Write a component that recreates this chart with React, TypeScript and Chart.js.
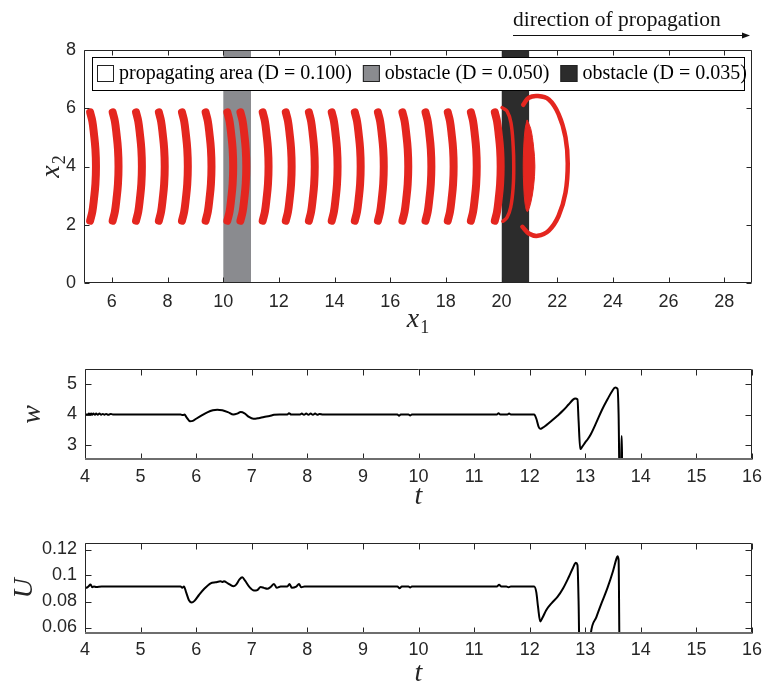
import React, { useEffect, useRef } from "react";
import { Chart, registerables } from "chart.js";

Chart.register(...registerables);

// ---------------- Data ----------------
const legendLabels = ["propagating area (D = 0.100)", "obstacle (D = 0.050)", "obstacle (D = 0.035)"];
const legendColors = ["#ffffff", "#8a8b8f", "#2c2c2c"];
const obstacleGrayX = [10, 11];
const obstacleDarkX = [20, 21];
const domainTop = 8;

// x position (x1) of the upper/lower tips of each wave-front arc
const arcStartX = [5.22, 6.03, 6.87, 7.69, 8.52, 9.37, 10.15, 10.62, 11.42, 12.25, 13.08, 13.9, 14.73, 15.56, 16.44, 17.27, 18.07, 18.9, 19.76];
// common arc profile (x2 value and bulge in x1)
const arcProfileY = [5.86, 5.55, 5.1, 4.6, 4.0, 3.4, 2.9, 2.45, 2.14];
const arcProfileDx = [0, 0.08, 0.14, 0.19, 0.21, 0.19, 0.14, 0.08, 0];

// thin arc inside the dark obstacle
const innerArcX = [20.02, 20.2, 20.34, 20.42, 20.44, 20.42, 20.33, 20.2, 20.05];
const innerArcY = [6.02, 5.9, 5.5, 4.7, 4.0, 3.3, 2.6, 2.25, 2.12];

// lens-shaped front just behind the dark obstacle
const lensX = [20.92, 21.05, 21.15, 21.2, 21.15, 21.05, 20.93, 20.85, 20.8, 20.78, 20.8, 20.85, 20.92];
const lensY = [5.6, 5.3, 4.7, 4.0, 3.3, 2.75, 2.45, 2.7, 3.3, 4.0, 4.7, 5.3, 5.6];

// outer C-shaped front
const frontX = [20.78, 20.98, 21.3, 21.7, 22.05, 22.3, 22.38, 22.3, 22.05, 21.7, 21.3, 20.98, 20.75];
const frontY = [6.12, 6.36, 6.42, 6.3, 5.8, 5.0, 4.1, 3.1, 2.3, 1.8, 1.62, 1.7, 1.93];

const topXTicks = [6, 8, 10, 12, 14, 16, 18, 20, 22, 24, 26, 28];
const topYTicks = [0, 2, 4, 6, 8];
const tTicks = [4, 5, 6, 7, 8, 9, 10, 11, 12, 13, 14, 15, 16];
const wTicks = [3, 4, 5];
const uTicks = [0.06, 0.08, 0.1, 0.12];

const wData: [number, number][] = [
  [4.0, 4.0], [4.05, 4.0], [4.07, 4.03], [4.09, 3.99], [4.11, 4.03], [4.13, 3.99], [4.15, 4.03], [4.18, 3.99],
  [4.2, 4.03], [4.23, 3.99], [4.26, 4.03], [4.29, 3.99], [4.32, 4.02], [4.35, 3.99], [4.38, 4.02], [4.42, 3.99],
  [4.46, 4.02], [4.5, 4.0], [5.72, 4.0], [5.76, 3.98], [5.79, 4.0], [5.83, 3.9], [5.89, 3.78], [5.94, 3.79],
  [6.0, 3.86], [6.1, 3.97], [6.2, 4.07], [6.3, 4.14], [6.38, 4.16], [6.47, 4.14], [6.57, 4.08], [6.67, 4.0],
  [6.74, 4.03], [6.8, 4.08], [6.87, 4.04], [6.95, 3.92], [7.03, 3.86], [7.12, 3.88], [7.22, 3.92], [7.32, 3.95],
  [7.4, 3.99], [7.5, 4.0], [7.64, 4.0], [7.67, 4.04], [7.71, 4.0], [7.87, 4.0], [7.9, 4.03], [7.94, 3.99],
  [7.98, 4.03], [8.02, 3.99], [8.06, 4.03], [8.1, 3.99], [8.14, 4.03], [8.18, 3.99], [8.22, 4.02], [8.28, 4.0],
  [9.62, 4.0], [9.65, 3.96], [9.68, 4.0], [9.82, 4.0], [9.85, 3.97], [9.88, 4.0], [11.41, 4.0], [11.44, 4.04],
  [11.47, 4.0], [11.6, 4.0], [11.63, 4.03], [11.66, 4.0], [12.08, 4.0], [12.12, 3.86], [12.16, 3.6], [12.19, 3.53],
  [12.23, 3.56], [12.3, 3.65], [12.4, 3.8], [12.5, 3.96], [12.6, 4.13], [12.7, 4.33], [12.78, 4.49], [12.82, 4.53],
  [12.86, 4.5], [12.88, 3.8], [12.91, 2.86], [12.95, 2.95], [13.0, 3.08], [13.05, 3.2], [13.1, 3.35], [13.2, 3.74],
  [13.3, 4.15], [13.4, 4.5], [13.48, 4.76], [13.54, 4.89], [13.58, 4.85], [13.6, 4.0], [13.62, 1.5], [13.645, 1.5],
  [13.65, 3.28], [13.66, 3.28], [13.665, 1.5], [13.7, 1.5],
];

const uData: [number, number][] = [
  [4.0, 0.0915], [4.03, 0.0905], [4.06, 0.0915], [4.1, 0.093], [4.13, 0.091], [4.16, 0.0915], [4.2, 0.0912],
  [4.3, 0.0915], [5.72, 0.0915], [5.75, 0.0905], [5.78, 0.0915], [5.82, 0.087], [5.87, 0.081], [5.92, 0.0792],
  [5.97, 0.0805], [6.05, 0.085], [6.15, 0.09], [6.26, 0.094], [6.35, 0.0948], [6.44, 0.0955], [6.47, 0.095],
  [6.5, 0.0956], [6.57, 0.094], [6.67, 0.0918], [6.72, 0.093], [6.78, 0.097], [6.83, 0.0986], [6.88, 0.096],
  [6.96, 0.091], [7.04, 0.0884], [7.1, 0.0888], [7.16, 0.0912], [7.22, 0.0905], [7.28, 0.0898], [7.34, 0.0912],
  [7.4, 0.0935], [7.45, 0.0905], [7.52, 0.0915], [7.64, 0.0915], [7.68, 0.0935], [7.72, 0.0905], [7.8, 0.0915],
  [7.85, 0.0935], [7.89, 0.091], [7.95, 0.0915], [9.62, 0.0915], [9.66, 0.0902], [9.7, 0.0915], [9.82, 0.0915],
  [9.85, 0.0908], [9.88, 0.0915], [11.41, 0.0915], [11.45, 0.0928], [11.49, 0.0915], [11.58, 0.0915],
  [11.62, 0.091], [11.66, 0.0915], [12.08, 0.0915], [12.12, 0.087], [12.15, 0.076], [12.19, 0.0647],
  [12.23, 0.0675], [12.3, 0.0735], [12.4, 0.079], [12.5, 0.0835], [12.6, 0.09], [12.7, 0.0985], [12.78, 0.106],
  [12.83, 0.1098], [12.86, 0.108], [12.88, 0.08], [12.9, 0.03], [13.05, 0.03], [13.1, 0.0555], [13.2, 0.068],
  [13.3, 0.0795], [13.4, 0.0905], [13.5, 0.1035], [13.56, 0.1128], [13.58, 0.1149], [13.6, 0.112], [13.62, 0.03],
  [13.7, 0.03],
];

// ---------------- Styling helpers ----------------
const RED = "#e4261f";
const AXIS = "#262626";
const TICK_FONT = { family: "Liberation Sans, Arial, sans-serif", size: 18 };
const SERIF = '"Liberation Serif", "Times New Roman", serif';

const matlabAxes = {
  id: "matlabAxes",
  afterDatasetsDraw(chart: any, _a: any, opts: any) {
    const { ctx, chartArea: a } = chart;
    const xs = chart.scales.x;
    const ys = chart.scales.y;
    const tl = opts.tickLen ?? 5;
    const L = Math.round(a.left) + 0.5;
    const R = Math.round(a.right) - 0.5;
    const T = Math.round(a.top) + 0.5;
    const B = Math.round(a.bottom) - 0.5;
    ctx.save();
    ctx.strokeStyle = opts.color ?? AXIS;
    ctx.lineWidth = 1;
    ctx.beginPath();
    ctx.rect(L, T, R - L, B - T);
    xs.ticks.forEach((t: any) => {
      const p = Math.round(xs.getPixelForValue(t.value)) + 0.5;
      ctx.moveTo(p, B); ctx.lineTo(p, B - tl);
      ctx.moveTo(p, T); ctx.lineTo(p, T + tl);
    });
    ys.ticks.forEach((t: any) => {
      const p = Math.round(ys.getPixelForValue(t.value)) + 0.5;
      ctx.moveTo(L, p); ctx.lineTo(L + tl, p);
      ctx.moveTo(R, p); ctx.lineTo(R - tl, p);
    });
    ctx.stroke();
    if (opts.bottomLine) {
      ctx.strokeStyle = opts.bottomLine;
      ctx.lineWidth = 2;
      ctx.beginPath();
      ctx.moveTo(a.left, Math.round(a.bottom) - 1);
      ctx.lineTo(a.right, Math.round(a.bottom) - 1);
      ctx.stroke();
    }
    ctx.restore();
  },
};

function drawMath(ctx: CanvasRenderingContext2D, base: string, sub: string | null, cx: number, baseY: number, size: number, rotate = false) {
  ctx.save();
  ctx.fillStyle = AXIS;
  const f1 = `italic ${size}px ${SERIF}`;
  const f2 = `${Math.round(size * 0.66)}px ${SERIF}`;
  ctx.font = f1;
  const w1 = ctx.measureText(base).width;
  ctx.font = f2;
  const w2 = sub ? ctx.measureText(sub).width + 1 : 0;
  const total = w1 + w2;
  if (rotate) {
    ctx.translate(baseY, cx);
    ctx.rotate(-Math.PI / 2);
  } else {
    ctx.translate(cx, baseY);
  }
  ctx.textBaseline = "alphabetic";
  ctx.textAlign = "left";
  ctx.font = f1;
  ctx.fillText(base, -total / 2, 0);
  if (sub) {
    ctx.font = f2;
    ctx.fillText(sub, -total / 2 + w1 + 1, size * 0.22);
  }
  ctx.restore();
}

function baseScale(min: number, max: number, ticks: number[], fit: (s: any) => void, padding: number) {
  return {
    type: "linear",
    min,
    max,
    grid: { display: false },
    border: { display: false },
    afterBuildTicks: (s: any) => {
      s.ticks = ticks.map((v) => ({ value: v }));
    },
    afterFit: fit,
    ticks: {
      font: TICK_FONT,
      color: AXIS,
      padding,
      maxRotation: 0,
      autoSkip: false,
      callback: (v: any) => String(v),
    },
  };
}

const commonOpts = {
  animation: false,
  responsive: false,
  devicePixelRatio: 1,
  events: [],
  elements: { point: { radius: 0 } },
};

// ---------------- Charts ----------------
function topConfig(): any {
  const arcs = arcStartX.map((x0, i) => ({
    label: `front ${i + 1}`,
    data: arcProfileY.map((y, k) => ({ x: x0 + arcProfileDx[k], y })),
    borderColor: RED,
    borderWidth: 8,
    borderCapStyle: "round",
    borderJoinStyle: "round",
    tension: 0.4,
    fill: false,
    order: 0,
  }));
  const inner = {
    label: "inner front",
    data: innerArcX.map((x, k) => ({ x, y: innerArcY[k] })),
    borderColor: RED,
    borderWidth: 3.5,
    borderCapStyle: "round",
    tension: 0.4,
    fill: false,
    order: 0,
  };
  const lens = {
    label: "lens front",
    data: lensX.map((x, k) => ({ x, y: lensY[k] })),
    borderColor: RED,
    backgroundColor: RED,
    borderWidth: 1,
    tension: 0.35,
    fill: "shape",
    order: 0,
  };
  const outer = {
    label: "outer front",
    data: frontX.map((x, k) => ({ x, y: frontY[k] })),
    borderColor: RED,
    borderWidth: 4.5,
    borderCapStyle: "round",
    tension: 0.4,
    fill: false,
    order: 0,
  };
  const obsGray = {
    label: legendLabels[1],
    data: obstacleGrayX.map((x) => ({ x, y: domainTop })),
    borderWidth: 0,
    borderColor: "rgba(0,0,0,0)",
    backgroundColor: legendColors[1],
    fill: "origin",
    order: 10,
  };
  const obsDark = {
    label: legendLabels[2],
    data: obstacleDarkX.map((x) => ({ x, y: domainTop })),
    borderWidth: 0,
    borderColor: "rgba(0,0,0,0)",
    backgroundColor: legendColors[2],
    fill: "origin",
    order: 10,
  };

  const decor = {
    id: "topDecor",
    afterDraw(chart: any) {
      const { ctx, chartArea: a } = chart;
      // title + arrow
      ctx.save();
      ctx.fillStyle = "#111";
      ctx.font = `21.5px ${SERIF}`;
      ctx.textBaseline = "alphabetic";
      ctx.fillText("direction of propagation", 513, 26);
      ctx.strokeStyle = "#111";
      ctx.lineWidth = 1;
      ctx.beginPath();
      ctx.moveTo(513, 35.5);
      ctx.lineTo(746, 35.5);
      ctx.stroke();
      ctx.beginPath();
      ctx.moveTo(750, 35.5);
      ctx.lineTo(742, 32.5);
      ctx.lineTo(742, 38.5);
      ctx.closePath();
      ctx.fillStyle = "#111";
      ctx.fill();
      // legend
      const lx = 92.5, ly = 57.5, lw = 652, lh = 33;
      ctx.fillStyle = "#fff";
      ctx.fillRect(lx, ly, lw, lh);
      ctx.strokeStyle = "#000";
      ctx.strokeRect(lx, ly, lw, lh);
      ctx.font = `20px ${SERIF}`;
      let x = 97;
      legendLabels.forEach((lab, i) => {
        ctx.fillStyle = legendColors[i];
        ctx.fillRect(x, 65, 17, 17);
        ctx.strokeStyle = "#222";
        ctx.strokeRect(x + 0.5, 65.5, 16, 16);
        ctx.fillStyle = "#000";
        ctx.fillText(lab, x + 22, 79);
        x = x + 22 + ctx.measureText(lab).width + 11;
      });
      ctx.restore();
      drawMath(ctx, "x", "1", (a.left + a.right) / 2, a.bottom + 44, 28);
      drawMath(ctx, "x", "2", (a.top + a.bottom) / 2, a.left - 25, 28, true);
    },
  };

  return {
    type: "line",
    data: { datasets: [...arcs, inner, lens, outer, obsGray, obsDark] },
    options: {
      ...commonOpts,
      layout: { padding: { top: 50, right: 11, left: 0, bottom: 0 } },
      plugins: { legend: { display: false }, tooltip: { enabled: false }, matlabAxes: { tickLen: 5 } },
      scales: {
        x: baseScale(5, 29, topXTicks, (s: any) => { s.height = 62; }, 0),
        y: baseScale(0, 8, topYTicks, (s: any) => { s.width = 84; }, 0),
      },
    },
    plugins: [matlabAxes, decor],
  };
}

function seriesConfig(data: [number, number][], label: string, yMin: number, yMax: number, yTicks: number[], padTop: number, xHeight: number, yLabelBase: number, tBase: number, xPad: number): any {
  const decor = {
    id: "seriesDecor",
    afterDraw(chart: any) {
      const { ctx, chartArea: a } = chart;
      drawMath(ctx, "t", null, (a.left + a.right) / 2, a.bottom + tBase, 28);
      drawMath(ctx, label, null, (a.top + a.bottom) / 2, a.left - yLabelBase, 28, true);
    },
  };
  return {
    type: "line",
    data: {
      datasets: [
        {
          label,
          data: data.map(([x, y]) => ({ x, y })),
          borderColor: "#000",
          borderWidth: 2,
          cubicInterpolationMode: "monotone",
          fill: false,
          clip: 0,
        },
      ],
    },
    options: {
      ...commonOpts,
      layout: { padding: { top: padTop, right: 11, left: 0, bottom: 0 } },
      plugins: { legend: { display: false }, tooltip: { enabled: false }, matlabAxes: { tickLen: 6, bottomLine: "#6e6e6e" } },
      scales: {
        x: baseScale(4, 16, tTicks, (s: any) => { s.height = xHeight; }, xPad),
        y: baseScale(yMin, yMax, yTicks, (s: any) => { s.width = 85; }, 0),
      },
    },
    plugins: [matlabAxes, decor],
  };
}

function ChartCanvas({ top, height, make }: { top: number; height: number; make: () => any }) {
  const ref = useRef<HTMLCanvasElement | null>(null);
  useEffect(() => {
    if (!ref.current) return;
    const chart = new Chart(ref.current, make());
    return () => chart.destroy();
  }, []);
  return (
    <canvas
      ref={ref}
      width={763}
      height={height}
      style={{ position: "absolute", left: 0, top, width: 763, height }}
    />
  );
}

export default function App() {
  return (
    <div style={{ position: "absolute", left: 0, top: 0, width: 763, height: 689, background: "#fff", overflow: "hidden" }}>
      <ChartCanvas top={0} height={345} make={topConfig} />
      <ChartCanvas
        top={340}
        height={180}
        make={() => seriesConfig(wData, "w", 2.5, 5.5, wTicks, 29, 60, 45, 44, -2)}
      />
      <ChartCanvas
        top={520}
        height={169}
        make={() => seriesConfig(uData, "U", 0.055, 0.125, uTicks, 23, 55, 53, 47, -3)}
      />
    </div>
  );
}
